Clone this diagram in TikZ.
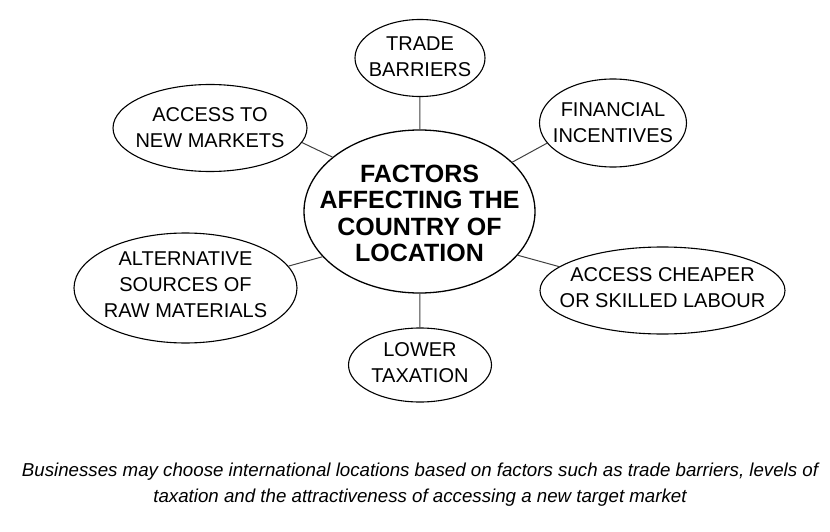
\documentclass[tikz,border=0pt]{standalone}
\usepackage{fontspec}
\setmainfont{Liberation Sans}
\usetikzlibrary{shapes.geometric}
\begin{document}
\begin{tikzpicture}[x=1pt,y=-1pt,
every node/.style={align=center},
factor/.style={ellipse,draw,line width=1.1pt,inner sep=-100pt,font=\fontsize{20}{26}\selectfont},
link/.style={draw,line width=1pt,black!75}]
\useasboundingbox (0,0) rectangle (830,532);
\node[factor,line width=1.3pt,minimum width=231pt,minimum height=163pt,text height=101pt,font=\bfseries\fontsize{25}{26.5}\selectfont] (Centre) at (419.5,211.5) {FACTORS\\AFFECTING THE\\COUNTRY OF\\LOCATION};
\node[factor,minimum width=130pt,minimum height=77pt,text depth=3pt] (Trade) at (420,58) {TRADE\\BARRIERS};
\node[factor,minimum width=147pt,minimum height=88pt] (Finance) at (613,123) {FINANCIAL\\INCENTIVES};
\node[factor,minimum width=245pt,minimum height=87pt,text depth=5pt] (Labour) at (662.5,290.5) {ACCESS CHEAPER\\OR SKILLED LABOUR};
\node[factor,minimum width=143pt,minimum height=74pt,text depth=4pt] (Tax) at (420,365) {LOWER\\TAXATION};
\node[factor,minimum width=223pt,minimum height=110pt,text depth=6pt] (Raw) at (185.5,288) {ALTERNATIVE\\SOURCES OF\\RAW MATERIALS};
\node[factor,minimum width=194pt,minimum height=87pt] (Markets) at (210,128) {ACCESS TO\\NEW MARKETS};
\draw[link] (Centre) -- (Trade);
\draw[link] (Centre.28) -- (Finance.197);
\draw[link] (Centre.-24) -- (Labour.167);
\draw[link] (Centre) -- (Tax);
\draw[link] (Centre.205) -- (Raw.12);
\draw[link] (Centre.148) -- (Markets.-9);
\node[font=\itshape\fontsize{18.7}{26.5}\selectfont] (Caption) at (420,484.5) {Businesses may choose international locations based on factors such as trade barriers, levels of\\taxation and the attractiveness of accessing a new target market};
\end{tikzpicture}
\end{document}
